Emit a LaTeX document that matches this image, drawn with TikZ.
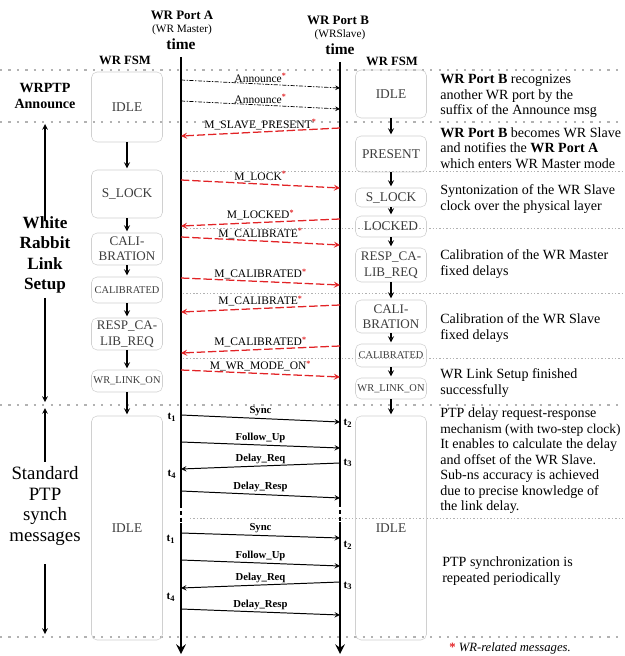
\documentclass[tikz,border=0pt]{standalone}
\usepackage{fontspec}
\setmainfont{Liberation Serif}
\usepackage{tikz}
\usetikzlibrary{arrows}

\definecolor{wrred}{RGB}{226,35,38}
\definecolor{sepgray}{RGB}{178,178,178}
\definecolor{boxgray}{RGB}{208,208,208}
\definecolor{statetext}{RGB}{60,60,60}

\newcommand{\wrstar}{\textsuperscript{\textcolor{wrred}{\bfseries *}}}
\newcommand{\fsmbig}{\fontsize{9.5}{11}\selectfont}
\newcommand{\fsmmid}{\fontsize{9.3}{11}\selectfont}
\newcommand{\fsmsmall}{\fontsize{7.4}{9}\selectfont}

\begin{document}
\begin{tikzpicture}[>=stealth, x=0.25mm, y=-0.25mm]
    \tikzstyle{fsmstate} = [draw=boxgray, rounded corners=4pt, minimum width=17.75mm,
	align=center, text=statetext, inner sep=0.5pt]
    \tikzstyle{fsmarrow} = [->, line width=0.9pt, shorten >=1pt]
    \tikzstyle{timeline} = [line width=2pt]
    \tikzstyle{majorsep} = [draw=sepgray, line width=1.6pt, dash pattern=on 1.6pt off 4.4pt]
    \tikzstyle{minorsep} = [draw=sepgray, line width=0.5pt, dash pattern=on 1pt off 1.4pt]
    \tikzstyle{wrmsg} = [draw=wrred, line width=0.9pt, dash pattern=on 6pt off 2pt]
    \tikzstyle{annmsg} = [line width=0.5pt, dash pattern=on 3pt off 1pt on 1pt off 1pt]
    \tikzstyle{ptpmsg} = [line width=0.7pt]
    \tikzstyle{msglbl} = [above, inner sep=1pt, font=\fontsize{8.2}{9}\selectfont]
    \tikzstyle{ptplbl} = [above, inner sep=1.5pt, font=\fontsize{7.6}{9}\selectfont\bfseries]
    \tikzstyle{tlbl} = [inner sep=0pt, font=\fontsize{8}{9}\selectfont\bfseries]
    \tikzstyle{note} = [anchor=west, align=left, inner sep=0pt, font=\fontsize{10}{11}\selectfont]
    \tikzstyle{seclbl} = [align=center, inner sep=3pt]

    \useasboundingbox (0,0) rectangle (624,656);

	% separators
	\foreach \y in {70, 122, 405, 637}
		\draw[majorsep] (0,\y) -- (624,\y);
	\foreach \y in {171, 228, 293, 358}
		\draw[minorsep] (183,\y) -- (624,\y);
	\draw[minorsep] (190,518) -- (624,518);

	% headers
	\node[font=\fontsize{9.2}{10}\selectfont\bfseries] (portA) at (182,15) {WR Port A};
	\node[font=\fontsize{8}{9}\selectfont] (roleA) at (182,30) {(WR Master)};
	\node[font=\fontsize{11}{12}\selectfont\bfseries] (timeA) at (181,44) {time};
	\node[font=\fontsize{9.2}{10}\selectfont\bfseries] (portB) at (338,20) {WR Port B};
	\node[font=\fontsize{8}{9}\selectfont] (roleB) at (340,35) {(WRSlave)};
	\node[font=\fontsize{11}{12}\selectfont\bfseries] (timeB) at (340,49) {time};
	\node[font=\fontsize{9}{10}\selectfont\bfseries] (fsmA) at (125,60) {WR FSM};
	\node[font=\fontsize{9}{10}\selectfont\bfseries] (fsmB) at (392,61) {WR FSM};

	% time lines
	\coordinate (aTop) at (181,57);
	\coordinate (aGapS) at (181,504);
	\coordinate (aGapE) at (181,523);
	\coordinate (aEnd) at (181,654);
	\coordinate (bTop) at (340,62);
	\coordinate (bGapS) at (340,503);
	\coordinate (bGapE) at (340,522);
	\coordinate (bEnd) at (340,654);
	\draw[timeline] (aTop) -- (aGapS);
	\draw[timeline, dash pattern=on 3pt off 1.8pt] (aGapS) -- (aGapE);
	\draw[timeline, ->] (aGapE) -- (aEnd);
	\draw[timeline] (bTop) -- (bGapS);
	\draw[timeline, dash pattern=on 3pt off 1.8pt] (bGapS) -- (bGapE);
	\draw[timeline, ->] (bGapE) -- (bEnd);

	% FSM states
	\path
		node[fsmstate, minimum height=17.5mm, font=\fsmbig] (lIdle) at (127,107) {IDLE}
		node[fsmstate, minimum height=12mm, font=\fsmbig] (lSlock) at (127,194) {S\_LOCK}
		node[fsmstate, minimum height=8mm, font=\fsmmid] (lCalib) at (127,249) {CALI-\\BRATION}
		node[fsmstate, minimum height=6.5mm, font=\fsmsmall] (lCalibd) at (127,290) {CALIBRATED}
		node[fsmstate, minimum height=8mm, font=\fsmmid] (lResp) at (127,334) {RESP\_CA-\\LIB\_REQ}
		node[fsmstate, minimum height=5.5mm, font=\fsmsmall] (lLinkOn) at (127,381) {WR\_LINK\_ON}
		node[fsmstate, minimum height=56mm, font=\fsmbig] (lIdleP) at (127,528) {IDLE}

		node[fsmstate, minimum height=12mm, font=\fsmbig] (rIdle) at (391,94) {IDLE}
		node[fsmstate, minimum height=9mm, font=\fsmbig] (rPresent) at (391,154) {PRESENT}
		node[fsmstate, minimum height=4.75mm, font=\fsmbig] (rSlock) at (391,197.5) {S\_LOCK}
		node[fsmstate, minimum height=5.25mm, font=\fsmbig] (rLocked) at (391,226.5) {LOCKED}
		node[fsmstate, minimum height=8.5mm, font=\fsmmid] (rResp) at (391,265) {RESP\_CA-\\LIB\_REQ}
		node[fsmstate, minimum height=8.25mm, font=\fsmmid] (rCalib) at (391,316.5) {CALI-\\BRATION}
		node[fsmstate, minimum height=5.75mm, font=\fsmsmall] (rCalibd) at (391,355.5) {CALIBRATED}
		node[fsmstate, minimum height=5.25mm, font=\fsmsmall] (rLinkOn) at (391,388.5) {WR\_LINK\_ON}
		node[fsmstate, minimum height=56mm, font=\fsmbig] (rIdleP) at (391,528) {IDLE}
	;

	\path[fsmarrow]
		(lIdle) edge (lSlock)
		(lSlock) edge (lCalib)
		(lCalib) edge (lCalibd)
		(lCalibd) edge (lResp)
		(lResp) edge (lLinkOn)
		(lLinkOn) edge (lIdleP)

		(rIdle) edge (rPresent)
		(rPresent) edge (rSlock)
		(rSlock) edge (rLocked)
		(rLocked) edge (rResp)
		(rResp) edge (rCalib)
		(rCalib) edge (rCalibd)
		(rCalibd) edge (rLinkOn)
		(rLinkOn) edge (rIdleP)
	;

	% message end points on the time lines
	\foreach \msg/\ya/\yb in {annI/80/88, annII/101/109, slv/136/128, lck/180/188,
		lckd/226/219, cal/237/245, cald/278/285, calS/312/305, caldS/353/346,
		mode/370/377, syncI/415/422, fupI/442/448, dreqI/469/463, drespI/491/498,
		syncII/533/538, fupII/560/566, dreqII/588/582, drespII/609/615}
	{
		\coordinate (\msg A) at (181,\ya);
		\coordinate (\msg B) at (340,\yb);
	}

	\path[->]
		(annIA) edge[annmsg] node[msglbl] {Announce\wrstar} (annIB)
		(annIIA) edge[annmsg] node[msglbl] {Announce\wrstar} (annIIB)

		(slvB) edge[wrmsg] node[msglbl] {M\_SLAVE\_PRESENT\wrstar} (slvA)
		(lckA) edge[wrmsg] node[msglbl] {M\_LOCK\wrstar} (lckB)
		(lckdB) edge[wrmsg] node[msglbl] {M\_LOCKED\wrstar} (lckdA)
		(calA) edge[wrmsg] node[msglbl] {M\_CALIBRATE\wrstar} (calB)
		(caldA) edge[wrmsg] node[msglbl] {M\_CALIBRATED\wrstar} (caldB)
		(calSB) edge[wrmsg] node[msglbl] {M\_CALIBRATE\wrstar} (calSA)
		(caldSB) edge[wrmsg] node[msglbl] {M\_CALIBRATED\wrstar} (caldSA)
		(modeA) edge[wrmsg] node[msglbl] {M\_WR\_MODE\_ON\wrstar} (modeB)

		(syncIA) edge[ptpmsg] node[ptplbl] {Sync} (syncIB)
		(fupIA) edge[ptpmsg] node[ptplbl] {Follow\_Up} (fupIB)
		(dreqIB) edge[ptpmsg] node[ptplbl] {Delay\_Req} (dreqIA)
		(drespIA) edge[ptpmsg] node[ptplbl] {Delay\_Resp} (drespIB)

		(syncIIA) edge[ptpmsg] node[ptplbl] {Sync} (syncIIB)
		(fupIIA) edge[ptpmsg] node[ptplbl] {Follow\_Up} (fupIIB)
		(dreqIIB) edge[ptpmsg] node[ptplbl] {Delay\_Req} (dreqIIA)
		(drespIIA) edge[ptpmsg] node[ptplbl] {Delay\_Resp} (drespIIB)
	;

	% timestamps
	\node[tlbl] (tIa) at (172,417) {t\textsubscript{1}};
	\node[tlbl] (tIIa) at (348,423) {t\textsubscript{2}};
	\node[tlbl] (tIIIa) at (348,463) {t\textsubscript{3}};
	\node[tlbl] (tIVa) at (172,474) {t\textsubscript{4}};
	\node[tlbl] (tIb) at (171,539) {t\textsubscript{1}};
	\node[tlbl] (tIIb) at (348,545) {t\textsubscript{2}};
	\node[tlbl] (tIIIb) at (348,586) {t\textsubscript{3}};
	\node[tlbl] (tIVb) at (171,597) {t\textsubscript{4}};

	% phases on the left
	\node[seclbl, font=\fontsize{10}{11.5}\selectfont\bfseries] (wrptp) at (45,96) {WRPTP\\Announce};
	\node[seclbl, font=\fontsize{12.2}{14.5}\selectfont\bfseries] (wrls) at (45,255) {White\\Rabbit\\Link\\Setup};
	\node[seclbl, font=\fontsize{13.4}{14.8}\selectfont] (ptps) at (45,506) {Standard\\PTP\\synch\\messages};
	\coordinate (wrlsTop) at (45,124);
	\coordinate (wrlsBot) at (45,402);
	\coordinate (ptpsTop) at (45,408);
	\coordinate (ptpsBot) at (45,634);
	\path[->, line width=0.8pt]
		(wrls) edge[shorten <=-6pt] (wrlsTop)
		(wrls) edge (wrlsBot)
		(ptps) edge (ptpsTop)
		(ptps) edge[shorten <=10pt] (ptpsBot)
	;

	% explanations on the right
	\node[note] (nAnn) at (440,96) {\textbf{WR Port B} recognizes\\another WR port by the\\suffix of the Announce msg};
	\node[note] (nPres) at (440,148) {\textbf{WR Port B} becomes WR Slave\\and notifies the \textbf{WR Port A}\\which enters WR Master mode};
	\node[note] (nLock) at (440,199) {Syntonization of the WR Slave\\clock over the physical layer};
	\node[note] (nCalM) at (440,264) {Calibration of the WR Master\\fixed delays};
	\node[note] (nCalS) at (440,328) {Calibration of the WR Slave\\fixed delays};
	\node[note] (nDone) at (440,383) {WR Link Setup finished\\successfully};
	\node[note] (nPtp) at (440,461) {PTP delay request-response\\{\fontsize{9.6}{11}\selectfont mechanism (with two-step clock)}\\It enables to calculate the delay\\and offset of the WR Slave.\\Sub-ns accuracy is achieved\\due to precise knowledge of\\the link delay.};
	\node[note] (nRep) at (442,571) {PTP synchronization is\\repeated periodically};
	\node[note, font=\fontsize{9}{10}\selectfont] (nStar) at (449,648) {\textcolor{wrred}{\bfseries *} \textit{WR-related messages.}};
\end{tikzpicture}
\end{document}
